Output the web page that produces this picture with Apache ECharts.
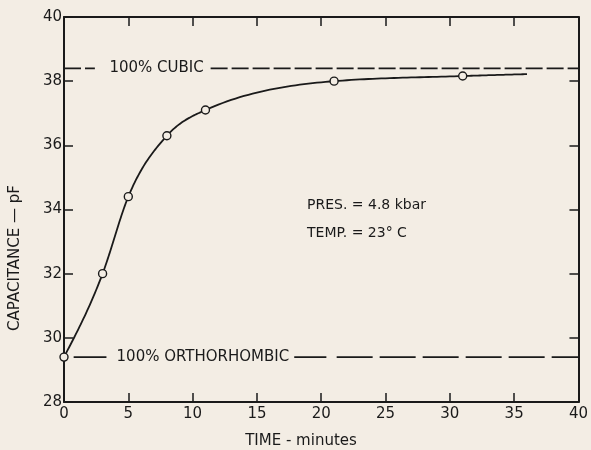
<!DOCTYPE html>
<html><head><meta charset="utf-8">
<script src="https://cdn.jsdelivr.net/npm/echarts@6/dist/echarts.min.js"></script>
<style>html,body{margin:0;padding:0;background:#f3ede4}#c{width:591px;height:450px}</style>
</head><body><div id="c"></div>
<script>
// ---- data ----
const timeMin = [0, 3, 5, 8, 11, 21, 31];
const capacitance = [29.4, 32.0, 34.4, 36.3, 37.1, 38.0, 38.16];
const curveEnd = [36, 38.22];
const cubicLevel = 38.4;
const orthoLevel = 29.4;
const cubicDashedSpans = [[0, 2.4], [11.4, 40]];
const orthoSolidSpans = [[0.75, 3.3], [17.9, 20.4]];
const orthoDashedSpans = [[21.2, 40]];
const cubicLabelPos = [7.2, 38.4];
const orthoLabelPos = [10.8, 29.4];
const cubicLabel = '100% CUBIC';
const orthoLabel = '100% ORTHORHOMBIC';
const xTickLabels = ['0','5','10','15','20','25','30','35','40'];
const yTickLabels = ['28','30','32','34','36','38','40'];
const annotations = ['PRES. = 4.8 kbar', 'TEMP. = 23° C'];
const xTitle = 'TIME - minutes';
const yTitle = 'CAPACITANCE — pF';

const BG = '#f3ede4', INK = '#1a1a1a', FONT = 'DejaVu Sans';

const measured = timeMin.map((t, i) => [t, capacitance[i]]);
const curveData = measured.concat([curveEnd]);

function spanSeries(spans, level, type) {
  return spans.map(s => ({
    type: 'line', data: [[s[0], level], [s[1], level]], symbol: 'none', silent: true,
    lineStyle: { color: INK, width: 1.7, type: type },
    z: 2
  }));
}

// monotone cubic (Fritsch-Carlson style) through pixel points
function monotonePath(pts) {
  const n = pts.length;
  const sgn = v => (v < 0 ? -1 : 1);
  const h = [], s = [];
  for (let i = 0; i < n - 1; i++) {
    h.push(pts[i + 1][0] - pts[i][0]);
    s.push((pts[i + 1][1] - pts[i][1]) / h[i]);
  }
  const m = new Array(n);
  for (let i = 1; i < n - 1; i++) {
    const p = (s[i - 1] * h[i] + s[i] * h[i - 1]) / (h[i - 1] + h[i]);
    m[i] = (sgn(s[i - 1]) + sgn(s[i])) * Math.min(Math.abs(s[i - 1]), Math.abs(s[i]), 0.5 * Math.abs(p)) || 0;
  }
  m[0] = (3 * s[0] - m[1]) / 2;
  m[n - 1] = (3 * s[n - 2] - m[n - 2]) / 2;
  const out = [pts[0].slice()];
  for (let i = 0; i < n - 1; i++) {
    const N = 30;
    for (let k = 1; k <= N; k++) {
      const t = k / N, t2 = t * t, t3 = t2 * t;
      const h00 = 2 * t3 - 3 * t2 + 1, h10 = t3 - 2 * t2 + t, h01 = -2 * t3 + 3 * t2, h11 = t3 - t2;
      const x = pts[i][0] + t * h[i];
      const y = h00 * pts[i][1] + h10 * h[i] * m[i] + h01 * pts[i + 1][1] + h11 * h[i] * m[i + 1];
      out.push([x, y]);
    }
  }
  return out;
}

const chart = echarts.init(document.getElementById('c'), null, { renderer: 'canvas' });
const xMin = +xTickLabels[0], xMax = +xTickLabels[xTickLabels.length - 1];
const yMin = +yTickLabels[0], yMax = +yTickLabels[yTickLabels.length - 1];
const xInt = +xTickLabels[1] - xMin, yInt = +yTickLabels[1] - yMin;

const axisCommon = {
  type: 'value',
  axisLine: { show: true, onZero: false, lineStyle: { color: INK, width: 2 } },
  splitLine: { show: false },
  axisTick: { show: true, inside: true, length: 9, lineStyle: { color: INK, width: 1.5 } }
};

chart.setOption({
  backgroundColor: BG,
  animation: false,
  grid: { left: 64, right: 8, top: 17, bottom: 48, containLabel: false },
  xAxis: [
    { ...axisCommon, position: 'bottom', min: xMin, max: xMax, interval: xInt,
      axisLabel: { margin: 5, fontSize: 15, fontFamily: FONT, color: INK, showMinLabel: true, showMaxLabel: true } },
    { ...axisCommon, position: 'top', min: xMin, max: xMax, interval: xInt, axisLabel: { show: false } }
  ],
  yAxis: [
    { ...axisCommon, position: 'left', min: yMin, max: yMax, interval: yInt,
      axisLabel: { margin: 2, fontSize: 15, fontFamily: FONT, color: INK, showMinLabel: true, showMaxLabel: true } },
    { ...axisCommon, position: 'right', min: yMin, max: yMax, interval: yInt, axisLabel: { show: false } }
  ],
  series: [
    ...spanSeries(cubicDashedSpans, cubicLevel, [17, 4]),
    ...spanSeries(orthoSolidSpans, orthoLevel, 'solid'),
    ...spanSeries(orthoDashedSpans, orthoLevel, [36, 7]),
    {
      type: 'scatter', silent: true, symbolSize: 1, itemStyle: { color: BG, opacity: 1 },
      data: [
        { value: cubicLabelPos, label: { formatter: cubicLabel } },
        { value: orthoLabelPos, label: { formatter: orthoLabel } }
      ],
      label: { show: true, position: 'inside', fontSize: 15, fontFamily: FONT, color: INK,
               textBorderWidth: 0, opacity: 1 },
      z: 3
    },
    {
      type: 'custom', silent: true, clip: false,
      data: curveData,
      renderItem: function (params, api) {
        if (params.dataIndex !== 0) return null;
        const pix = curveData.map(d => api.coord(d));
        return { type: 'polyline', shape: { points: monotonePath(pix) },
                 style: { stroke: INK, lineWidth: 1.8, fill: null } };
      },
      z: 4
    },
    {
      type: 'scatter', silent: true, clip: false,
      data: measured, symbol: 'circle', symbolSize: 8,
      itemStyle: { color: BG, borderColor: INK, borderWidth: 1.4, opacity: 1 },
      z: 5
    }
  ],
  graphic: [
    { type: 'text', left: 307, top: 198, style: { text: annotations[0], font: '14px "DejaVu Sans"', fill: INK } },
    { type: 'text', left: 307, top: 226, style: { text: annotations[1], font: '14px "DejaVu Sans"', fill: INK } },
    { type: 'text', x: 301, y: 441, style: { text: xTitle, font: '15px "DejaVu Sans"', fill: INK, align: 'center', verticalAlign: 'middle' } },
    { type: 'text', x: 15, y: 258, rotation: Math.PI / 2, style: { text: yTitle, font: '15px "DejaVu Sans"', fill: INK, align: 'center', verticalAlign: 'middle' } }
  ]
});
</script>
</body></html>
